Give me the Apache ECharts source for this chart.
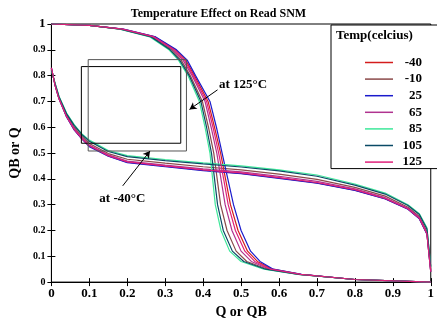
<!DOCTYPE html>
<html>
<head>
<meta charset="utf-8">
<script src="https://cdn.jsdelivr.net/npm/echarts@6/dist/echarts.min.js"></script>
<style>
html, body { margin: 0; padding: 0; background: #fff; }
#snm { width: 437px; height: 324px; }
</style>
</head>
<body>
<div id="snm"></div>
<script>
// temperatures shown in the legend
const temps = ['-40', '-10', '25', '65', '85', '105', '125'];
const tempColors = ['#d41c1c', '#8b4a4a', '#1a1acc', '#b0338f', '#3de89a', '#0a4a66', '#e0207a'];

// transfer curve QB(Q): shared y levels, x read per temperature
const readY = [1, 0.995, 0.98, 0.95, 0.9, 0.86, 0.8, 0.7, 0.6, 0.5, 0.4, 0.3, 0.2, 0.12, 0.08, 0.05, 0.03, 0.01, 0];
const readX_m40 = [0, 0.1, 0.188, 0.273, 0.327, 0.354, 0.377, 0.413, 0.43, 0.446, 0.459, 0.472, 0.492, 0.517, 0.543, 0.582, 0.658, 0.8, 1];
const readX_m10 = [0, 0.1, 0.184, 0.266, 0.317, 0.342, 0.366, 0.398, 0.414, 0.428, 0.437, 0.446, 0.463, 0.487, 0.515, 0.57, 0.654, 0.8, 1];
const readX_25 = [0, 0.1, 0.19, 0.275, 0.33, 0.358, 0.38, 0.418, 0.435, 0.45, 0.465, 0.48, 0.5, 0.525, 0.55, 0.585, 0.66, 0.8, 1];
const readX_65 = [0, 0.1, 0.186, 0.269, 0.321, 0.347, 0.371, 0.405, 0.421, 0.436, 0.447, 0.458, 0.476, 0.5, 0.527, 0.575, 0.656, 0.8, 1];
const readX_85 = [0, 0.1, 0.18, 0.26, 0.31, 0.335, 0.36, 0.39, 0.405, 0.418, 0.425, 0.432, 0.447, 0.47, 0.5, 0.56, 0.65, 0.8, 1];
const readX_105 = [0, 0.1, 0.182, 0.263, 0.313, 0.338, 0.363, 0.394, 0.409, 0.422, 0.43, 0.438, 0.453, 0.477, 0.507, 0.565, 0.652, 0.8, 1];
const readX_125 = [0, 0.1, 0.187, 0.271, 0.324, 0.351, 0.374, 0.409, 0.426, 0.441, 0.454, 0.466, 0.485, 0.51, 0.536, 0.578, 0.657, 0.8, 1];

// mirrored curve Q(QB): shared x, y per temperature
const holdX = [0, 0.01, 0.02, 0.04, 0.06, 0.08, 0.1, 0.15, 0.2, 0.3, 0.4, 0.5, 0.6, 0.7, 0.8, 0.88, 0.94, 0.97, 0.99, 1];
const holdY_m40 = [0.83, 0.76, 0.71, 0.641, 0.591, 0.556, 0.527, 0.489, 0.465, 0.449, 0.434, 0.421, 0.404, 0.384, 0.356, 0.323, 0.283, 0.246, 0.186, 0.04];
const holdY_m10 = [0.825, 0.765, 0.715, 0.648, 0.6, 0.565, 0.537, 0.498, 0.476, 0.461, 0.447, 0.435, 0.418, 0.398, 0.367, 0.333, 0.29, 0.254, 0.196, 0.05];
const holdY_25 = [0.83, 0.76, 0.71, 0.64, 0.59, 0.555, 0.525, 0.488, 0.463, 0.447, 0.432, 0.42, 0.402, 0.383, 0.355, 0.322, 0.282, 0.245, 0.185, 0.04];
const holdY_65 = [0.828, 0.762, 0.712, 0.644, 0.595, 0.56, 0.531, 0.493, 0.469, 0.453, 0.439, 0.427, 0.41, 0.39, 0.361, 0.327, 0.286, 0.25, 0.19, 0.045];
const holdY_85 = [0.82, 0.77, 0.72, 0.655, 0.61, 0.575, 0.55, 0.51, 0.49, 0.475, 0.462, 0.45, 0.435, 0.415, 0.38, 0.345, 0.3, 0.265, 0.21, 0.06];
const holdY_105 = [0.82, 0.768, 0.718, 0.652, 0.607, 0.572, 0.546, 0.506, 0.486, 0.471, 0.458, 0.446, 0.431, 0.41, 0.376, 0.341, 0.297, 0.262, 0.206, 0.06];
const holdY_125 = [0.83, 0.761, 0.711, 0.642, 0.592, 0.557, 0.528, 0.49, 0.466, 0.45, 0.435, 0.423, 0.405, 0.386, 0.358, 0.324, 0.284, 0.247, 0.187, 0.04];

const readXs = [readX_m40, readX_m10, readX_25, readX_65, readX_85, readX_105, readX_125];
const holdYs = [holdY_m40, holdY_m10, holdY_25, holdY_65, holdY_85, holdY_105, holdY_125];

// SNM squares (corner points) and annotation arrows
const box125 = [[0.079, 0.538], [0.341, 0.538], [0.341, 0.835], [0.079, 0.835], [0.079, 0.538]];
const boxM40 = [[0.097, 0.508], [0.356, 0.508], [0.356, 0.862], [0.097, 0.862], [0.097, 0.508]];
const arrow125 = [[0.438, 0.745], [0.364, 0.669]];
const arrowM40 = [[0.188, 0.373], [0.26, 0.508]];
const notes = [['at 125°C', 0.505, 0.765], ['at -40°C', 0.187, 0.323]];

const xTicks = ['0', '0.1', '0.2', '0.3', '0.4', '0.5', '0.6', '0.7', '0.8', '0.9', '1'];

const serif = 'Liberation Serif';
const chart = echarts.init(document.getElementById('snm'));

let series = [];
temps.forEach(function (t, i) {
  series.push({
    name: t, type: 'line', symbol: 'none', z: 3,
    lineStyle: { color: tempColors[i], width: 1.2 }, itemStyle: { color: tempColors[i] },
    data: readY.map(function (y, k) { return [readXs[i][k], y]; })
  });
  series.push({
    name: t, type: 'line', symbol: 'none', z: 3,
    lineStyle: { color: tempColors[i], width: 1.2 }, itemStyle: { color: tempColors[i] },
    data: holdX.map(function (x, k) { return [x, holdYs[i][k]]; })
  });
});

series.push({
  type: 'line', symbol: 'none', z: 4,
  lineStyle: { color: '#000', width: 1 }, data: box125,
  markLine: {
    silent: true, symbol: ['none', 'arrow'], symbolSize: [6, 7],
    lineStyle: { color: '#000', width: 1, type: 'solid' }, label: { show: false },
    data: [
      [{ coord: arrow125[0] }, { coord: arrow125[1] }],
      [{ coord: arrowM40[0] }, { coord: arrowM40[1] }]
    ]
  }
});
series.push({
  type: 'line', symbol: 'none', z: 4,
  lineStyle: { color: '#555', width: 1 }, data: boxM40
});

chart.setOption({
  animation: false,
  backgroundColor: '#fff',
  title: {
    text: 'Temperature Effect on Read SNM', left: 'center', top: 3,
    textStyle: { fontFamily: serif, fontWeight: 'bold', fontSize: 12, color: '#000' }
  },
  grid: { left: 39, right: 5, top: 24, bottom: 40, show: true, borderColor: '#000', borderWidth: 1 },
  legend: {
    data: temps, orient: 'vertical', left: 331, top: 25,
    padding: [31, 40, 0, 34], itemWidth: 28, itemHeight: 1.5, itemGap: 3.6, icon: 'rect',
    backgroundColor: '#fff', borderColor: '#000', borderWidth: 1,
    formatter: function (n) { return '{v|' + n + '}'; },
    textStyle: {
      rich: { v: { width: 24, align: 'right', fontFamily: serif, fontWeight: 'bold', fontSize: 13, color: '#000' } }
    }
  },
  xAxis: [{
    type: 'value', min: 0, max: 1, interval: 0.1,
    name: 'Q or QB', nameLocation: 'middle', nameGap: 21,
    nameTextStyle: { fontFamily: serif, fontWeight: 'bold', fontSize: 14, color: '#000' },
    axisLine: { lineStyle: { color: '#000' } },
    axisTick: { inside: true, length: 4, lineStyle: { color: '#000' } },
    splitLine: { show: false },
    axisLabel: {
      margin: 5, fontFamily: serif, fontWeight: 'bold', fontSize: 13, color: '#000',
      formatter: function (v) { return xTicks[Math.round(v * 10)]; }
    }
  }, {
    type: 'value', min: 0, max: 1, interval: 0.1, position: 'top',
    axisLine: { lineStyle: { color: '#000' } },
    axisTick: { inside: true, length: 4, lineStyle: { color: '#000' } },
    axisLabel: { show: false }, splitLine: { show: false }
  }],
  yAxis: [{
    type: 'value', min: 0, max: 1, interval: 0.1,
    name: 'QB or Q', nameLocation: 'middle', nameGap: 24,
    nameTextStyle: { fontFamily: serif, fontWeight: 'bold', fontSize: 14, color: '#000' },
    axisLine: { lineStyle: { color: '#000' } },
    axisTick: { inside: true, length: 4, lineStyle: { color: '#000' } },
    splitLine: { show: false },
    axisLabel: {
      margin: 6, fontFamily: serif, fontWeight: 'bold', fontSize: 10, color: '#000',
      formatter: function (v) {
        const s = xTicks[Math.round(v * 10)];
        return s === '1' ? '{big|1}' : s;
      },
      rich: { big: { fontFamily: serif, fontWeight: 'bold', fontSize: 13, color: '#000' } }
    }
  }, {
    type: 'value', min: 0, max: 1, interval: 0.1, position: 'right',
    axisLine: { lineStyle: { color: '#000' } },
    axisTick: { inside: true, length: 4, lineStyle: { color: '#000' } },
    axisLabel: { show: false }, splitLine: { show: false }
  }],
  series: series
});

// legend title and annotation texts, placed through the axes
let gfx = [{
  type: 'text', left: 336, top: 29, z: 100,
  style: { text: 'Temp(celcius)', fontFamily: serif, fontWeight: 'bold', fontSize: 13, fill: '#000' }
}];
notes.forEach(function (n) {
  const p = chart.convertToPixel({ xAxisIndex: 0, yAxisIndex: 0 }, [n[1], n[2]]);
  gfx.push({
    type: 'text', x: p[0], y: p[1], z: 100,
    style: { text: n[0], align: 'center', verticalAlign: 'middle', fontFamily: serif, fontWeight: 'bold', fontSize: 13, fill: '#000' }
  });
});
chart.setOption({ graphic: gfx });
</script>
</body>
</html>
